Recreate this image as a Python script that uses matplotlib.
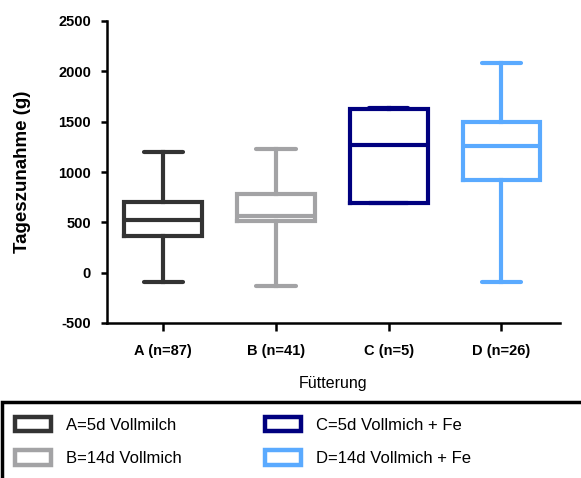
import matplotlib.pyplot as plt
from matplotlib.patches import Patch, Rectangle

plt.rcParams['font.family'] = ['Liberation Sans', 'DejaVu Sans']

# Gruppen und Kennwerte der Boxplots
gruppen = ['A (n=87)', 'B (n=41)', 'C (n=5)', 'D (n=26)']
legende = ['A=5d Vollmilch', 'B=14d Vollmich', 'C=5d Vollmich + Fe', 'D=14d Vollmich + Fe']
farben = ['#333333', '#a3a3a5', '#00007f', '#5aaaff']
minimum = [-90, -130, 695, -90]
q1 = [367, 510, 695, 923]
median = [526, 565, 1271, 1261]
q3 = [705, 785, 1625, 1495]
maximum = [1200, 1232, 1640, 2085]
y_ticks = [-500, 0, 500, 1000, 1500, 2000, 2500]

fig = plt.figure(figsize=(5.81, 4.78), dpi=100)
ax = fig.add_axes([107 / 581, 1 - 323 / 478, 453 / 581, 302 / 478])

stats = []
for i in range(len(gruppen)):
    stats.append({'med': median[i], 'q1': q1[i], 'q3': q3[i],
                  'whislo': minimum[i], 'whishi': maximum[i], 'fliers': []})

for i, s in enumerate(stats):
    c = farben[i]
    ax.bxp([s], positions=[i + 1], widths=0.69, capwidths=0.35, showfliers=False,
           boxprops=dict(color=c, linewidth=3, solid_joinstyle='miter'),
           medianprops=dict(color=c, linewidth=3),
           whiskerprops=dict(color=c, linewidth=3),
           capprops=dict(color=c, linewidth=3, solid_capstyle='round'))

ax.set_xlim(0.5, 4.52)
ax.set_ylim(-500, 2500)
ax.set_yticks(y_ticks)
ax.set_xticks(range(1, len(gruppen) + 1))
ax.set_xticklabels(gruppen, fontsize=10.5, fontweight='bold')
ax.set_yticklabels([str(v) for v in y_ticks], fontsize=10.5, fontweight='bold')
ax.tick_params(axis='y', length=4.5, width=1.8, pad=7)
ax.tick_params(axis='x', length=6, width=1.8, pad=9)
for sp in ['top', 'right']:
    ax.spines[sp].set_visible(False)
for sp in ['left', 'bottom']:
    ax.spines[sp].set_linewidth(1.8)

ax.set_ylabel('Tageszunahme (g)', fontsize=13.5, fontweight='bold')
ax.yaxis.set_label_coords(-0.168, 0.5)
ax.set_xlabel('Fütterung', fontsize=11.5, labelpad=13)

# Legendenrahmen
fig.add_artist(Rectangle((2 / 581, -0.05), 1.1, (478 - 402) / 478 + 0.05,
                         transform=fig.transFigure, fill=False,
                         edgecolor='black', linewidth=2.5))
handles = [Patch(facecolor='white', edgecolor=c, linewidth=3.2) for c in farben]
fig.legend(handles, legende, loc='upper left', bbox_to_anchor=(15 / 581, 1 - 417 / 478),
           ncol=2, frameon=False, fontsize=12, handlelength=2.15, handleheight=0.95,
           handletextpad=0.9, labelspacing=1.05, columnspacing=5.0, borderpad=0,
           borderaxespad=0)

fig.savefig('out.png', dpi=100)
